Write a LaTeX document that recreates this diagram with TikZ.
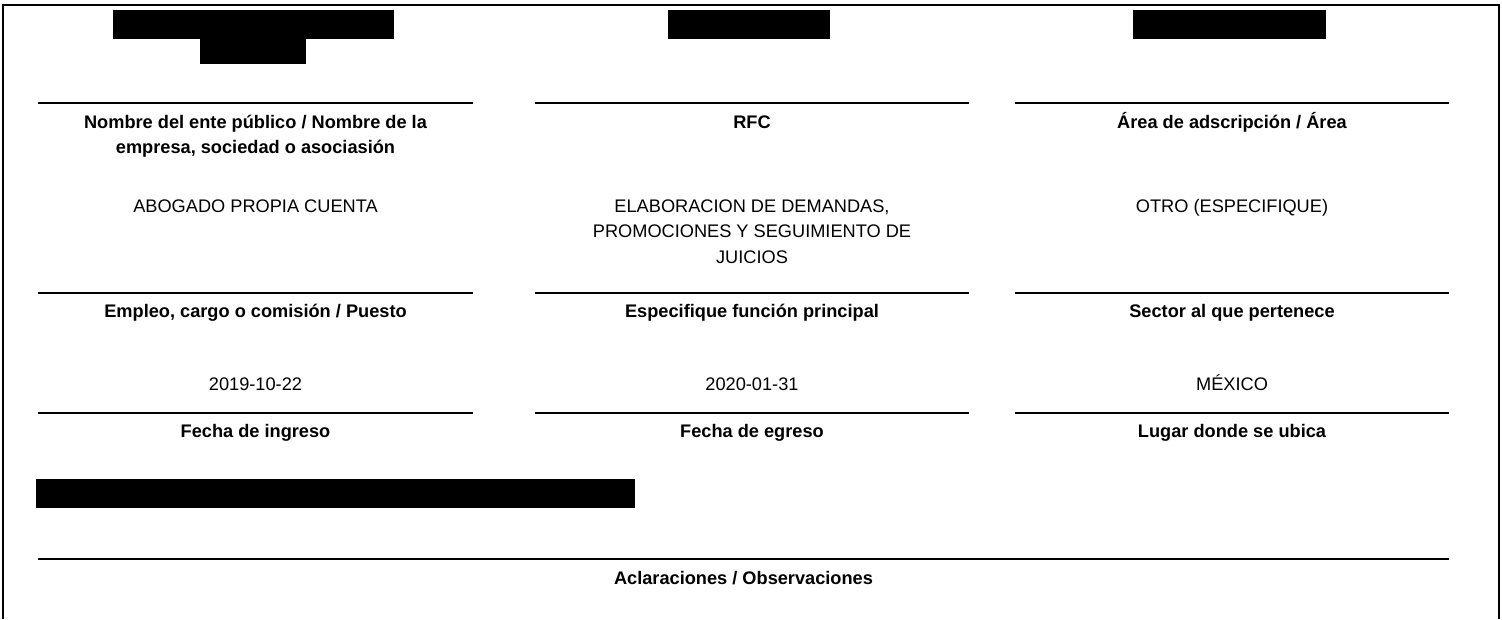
\documentclass[tikz,border=0pt]{standalone}
\usepackage{fontspec}
\setmainfont{Liberation Sans}
\usepackage{tikz}

\begin{document}
\begin{tikzpicture}[x=1pt,y=-1pt,
    field/.style={font=\fontsize{18.2}{25.3}\selectfont\bfseries, anchor=base, align=center, inner sep=0pt},
    entry/.style={font=\fontsize{18.2}{25.3}\selectfont, anchor=base, align=center, inner sep=0pt},
    rule/.style={line width=2.6pt},
    blackout/.style={fill=black}]
    \useasboundingbox (0,0) rectangle (1502,619);
    \draw [line width=2pt] (3,619) -- (3,5) -- (1499,5) -- (1499,619);

    \fill [blackout] (113,10) rectangle (394,39);
    \fill [blackout] (200,39) rectangle (306,64);
    \fill [blackout] (668,10) rectangle (830,39);
    \fill [blackout] (1133,10) rectangle (1326,39);
    \fill [blackout] (36,479) rectangle (635,508);

    \draw [rule] (38,103) -- (473,103);
    \draw [rule] (535,103) -- (969,103);
    \draw [rule] (1015,103) -- (1449,103);
    \node [field] (ente) at (255.5,153.3) {Nombre del ente público / Nombre de la\\empresa, sociedad o asociasión};
    \node [field] (rfc) at (752,128) {RFC};
    \node [field] (area) at (1232,128) {Área de adscripción / Área};

    \node [entry] (empleo) at (255.5,212.5) {ABOGADO PROPIA CUENTA};
    \node [entry] (funcion) at (752,263.1) {ELABORACION DE DEMANDAS,\\PROMOCIONES Y SEGUIMIENTO DE\\JUICIOS};
    \node [entry] (sector) at (1232,212.5) {OTRO (ESPECIFIQUE)};

    \draw [rule] (38,293) -- (473,293);
    \draw [rule] (535,293) -- (969,293);
    \draw [rule] (1015,293) -- (1449,293);
    \node [field] (empleolbl) at (255.5,317) {Empleo, cargo o comisión / Puesto};
    \node [field] (funcionlbl) at (752,317) {Especifique función principal};
    \node [field] (sectorlbl) at (1232,317) {Sector al que pertenece};

    \node [entry] (ingreso) at (255.5,390) {2019-10-22};
    \node [entry] (egreso) at (752,390) {2020-01-31};
    \node [entry] (lugar) at (1232,390) {MÉXICO};

    \draw [rule] (38,413) -- (473,413);
    \draw [rule] (535,413) -- (969,413);
    \draw [rule] (1015,413) -- (1449,413);
    \node [field] (ingresolbl) at (255.5,437) {Fecha de ingreso};
    \node [field] (egresolbl) at (752,437) {Fecha de egreso};
    \node [field] (lugarlbl) at (1232,437) {Lugar donde se ubica};

    \draw [rule] (38,559) -- (1449,559);
    \node [field] (notas) at (743.5,584) {Aclaraciones / Observaciones};
\end{tikzpicture}
\end{document}
